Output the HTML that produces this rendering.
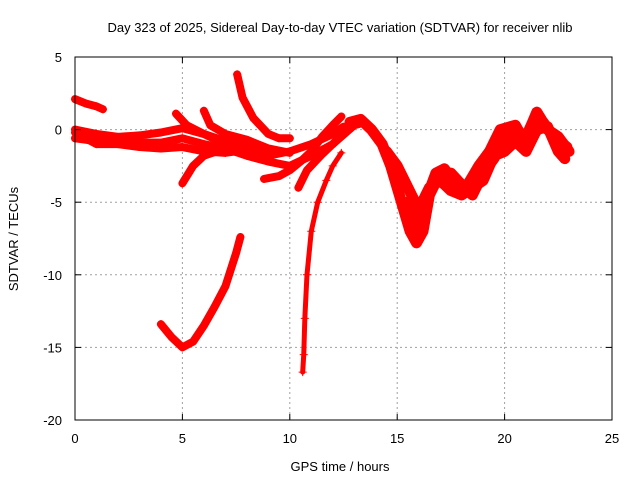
<!DOCTYPE html>
<html><head><meta charset="utf-8"><style>
body{margin:0;background:#fff;}
svg text{font-family:"Liberation Sans",sans-serif;font-size:13px;fill:#000;}
</style></head><body>
<svg id="chart" width="640" height="480">
<rect width="640" height="480" fill="#fff"/>
<text x="340" y="32" text-anchor="middle">Day 323 of 2025, Sidereal Day-to-day VTEC variation (SDTVAR) for receiver nlib</text>
<text x="340" y="471" text-anchor="middle">GPS time / hours</text>
<text transform="translate(18,239) rotate(-90)" text-anchor="middle">SDTVAR / TECUs</text>
<g id="grid"></g><g id="marks"></g>
<rect x="75" y="57" width="537" height="363" fill="none" stroke="#000" stroke-width="1"/>
<g id="ticks"></g>
</svg>
<script>
const xTicks=[0,5,10,15,20,25];
const yTicks=[5,0,-5,-10,-15,-20];
const tracks=[
[[0,2.1],[0.5,1.8],[1,1.6],[1.3,1.4]],
[[0,0],[1,-0.3],[2,-0.5],[3,-0.4],[4,-0.2],[5,0.1],[6,-0.3],[7,-1],[8,-1.5],[9,-1.8],[10,-1.5],[11,-1],[12,-0.3],[12.5,0.2]],
[[0,-0.6],[1,-0.8],[2,-0.7],[3,-0.9],[4,-0.9],[5,-0.6],[6,-1],[7,-1.3],[8,-1.8],[9,-2.2],[10,-2.5],[11,-1.8],[12,-1],[13,0.3],[13.5,0.5]],
[[0,-0.2],[1,-1],[2,-1],[3,-1.2],[4,-1.3],[5,-1.2],[6,-1.5],[7,-1.6],[8,-1.4]],
[[5,-3.7],[5.5,-2.5],[6,-1.8],[7,-1.3]],
[[4.7,1.1],[5.2,0.3],[6,-0.3],[7,-0.8],[8,-1.2],[9,-1.4]],
[[6,1.3],[6.3,0.3],[7,-0.3],[8,-0.7],[9,-1.3],[10,-1.6]],
[[7.55,3.8],[7.8,2.2],[8.3,0.8],[9,-0.3],[9.5,-0.6],[10,-0.6]],
[[8.8,-3.4],[9.5,-3.2],[10,-2.8],[10.5,-2.2],[11,-1.5],[11.5,-0.5],[12,0.3],[12.4,0.9]],
[[10.6,-16.7],[10.65,-15.5],[10.7,-13],[10.8,-10],[11,-7],[11.3,-5],[11.7,-3.5],[12,-2.5],[12.4,-1.6]],
[[10.4,-4],[10.8,-2.8],[11.5,-1.7],[12,-1],[12.5,-0.2],[13,0.5],[13.5,0.4]],
[[4,-13.4],[4.5,-14.3],[5,-15],[5.5,-14.6],[6,-13.5],[6.5,-12.2],[7,-10.8],[7.5,-8.5],[7.7,-7.4]],
[[12.8,0.5],[13.3,0.7],[13.8,0],[14.3,-1],[14.7,-2.5],[15,-4],[15.3,-5.5],[15.6,-7],[15.9,-7.8],[16.2,-7],[16.5,-4.5],[17,-3],[17.5,-3],[18,-3.8],[18.5,-4.5],[19,-3],[19.5,-2],[20,-0.5],[20.5,0],[21,-0.5],[21.3,0.5],[21.5,1.2],[22,0],[22.5,-0.5],[23,-1.5]],
[[14.5,-1.5],[15,-2.5],[15.5,-4],[16,-5.5],[16.5,-4],[17,-3.5],[17.5,-4.2],[18,-4.5],[18.5,-4],[19,-3.5],[19.5,-1.8],[20,-1.5],[20.5,-0.8],[21,-1.5],[21.5,0],[22,0.2],[22.5,-1.5],[22.8,-2]],
[[15.5,-5],[16,-7.5],[16.3,-5],[16.8,-3],[17.2,-2.7],[17.7,-3.8],[18.2,-4],[18.8,-2.5],[19.3,-1.5],[19.8,0],[20.5,0.3],[21,-1],[21.8,0.5],[22.3,-0.5],[22.9,-1.2]]
];
const X=h=>75+h*537/25, Y=v=>57+(5-v)*363/25;
const NS="http://www.w3.org/2000/svg";
const grid=document.getElementById('grid'),ticks=document.getElementById('ticks'),marks=document.getElementById('marks');
function mk(tag,at,parent){const e=document.createElementNS(NS,tag);for(const k in at)e.setAttribute(k,at[k]);parent.appendChild(e);return e;}
xTicks.forEach(t=>{const x=X(t);
 if(t>0&&t<25){const g=mk('line',{x1:x,x2:x,y1:57,y2:420,stroke:'#a0a0a0','stroke-dasharray':'2,3'},grid);
 
 }
 mk('line',{x1:x,x2:x,y1:420,y2:414,stroke:'#000'},ticks);mk('line',{x1:x,x2:x,y1:57,y2:63,stroke:'#000'},ticks);
 const l=mk('text',{x:x,y:443,'text-anchor':'middle'},ticks);l.textContent=t;
 
 });
yTicks.forEach(t=>{const y=Y(t);
 if(t<5&&t>-20){const g=mk('line',{x1:75,x2:612,y1:y,y2:y,stroke:'#a0a0a0','stroke-dasharray':'2,3'},grid);
 
 }
 mk('line',{x1:75,x2:81,y1:y,y2:y,stroke:'#000'},ticks);mk('line',{x1:612,x2:606,y1:y,y2:y,stroke:'#000'},ticks);
 const l=mk('text',{x:62,y:y+5,'text-anchor':'end'},ticks);l.textContent=t;
 
 });
tracks.forEach((tr,i)=>{
 const w=i>=12?11:(i===9?5:8);
 const p=mk('polyline',{points:tr.map(d=>X(d[0])+','+Y(d[1])).join(' '),fill:'none',stroke:'#f00','stroke-width':w,'stroke-linejoin':'round','stroke-linecap':'round'},marks);
 
 
 tr.forEach(d=>{const x=X(d[0]),y=Y(d[1]);
  const m=mk('path',{d:`M${x-4},${y}H${x+4}M${x},${y-4}V${y+4}`,stroke:'#f00','stroke-width':1},marks);
  
  });
});
</script>
</body></html>
